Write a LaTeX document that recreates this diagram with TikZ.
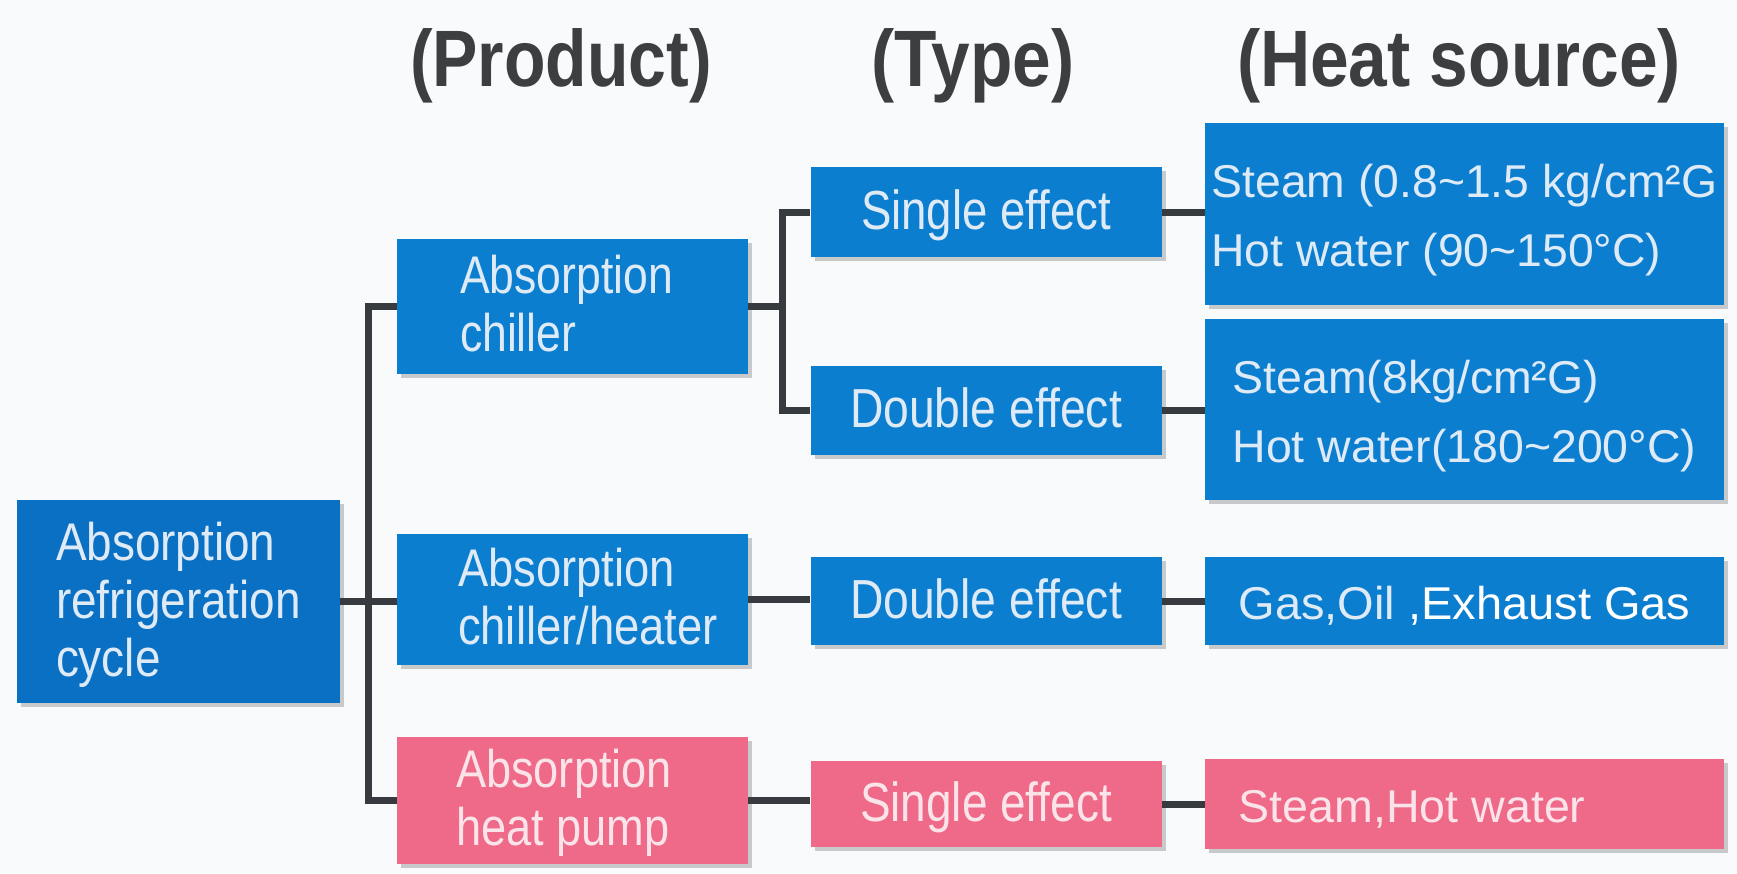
\documentclass[tikz,border=0pt]{standalone}
\usepackage{fontspec}
\setmainfont{Liberation Sans}
\usepackage{graphicx}
\usetikzlibrary{shadows}
\definecolor{cblue}{RGB}{11,126,208}
\definecolor{cblueroot}{RGB}{10,112,196}
\definecolor{cpink}{RGB}{239,106,136}
\definecolor{btext}{RGB}{222,234,246}
\definecolor{ptext}{RGB}{250,228,234}
\definecolor{cline}{RGB}{55,58,62}
\definecolor{chead}{RGB}{60,62,64}
\definecolor{cbg}{RGB}{248,250,252}
\newsavebox\fitbox
\newcommand\fitw[2]{\sbox\fitbox{#2}\pgfmathsetmacro\fxs{#1/\the\wd\fitbox}\raisebox{-0.1em}[\height][\depth]{\scalebox{\fxs}[1]{\usebox\fitbox}}}
\newcommand\txtblock[1]{\begin{tabular}{@{}l@{}}#1\end{tabular}}
\begin{document}
\begin{tikzpicture}[x=1pt,y=-1pt,
  box/.style={rectangle, inner sep=0pt, text=btext,
    drop shadow={shadow xshift=4pt, shadow yshift=-4pt, opacity=0.4}},
  bluebox/.style={box, fill=cblue},
  pinkbox/.style={box, fill=cpink, text=ptext},
  conn/.style={draw=cline, line width=7pt, line join=miter},
  head/.style={text=chead, font=\fontsize{80}{90}\selectfont\bfseries, anchor=base, inner sep=0pt},
  prodf/.style={font=\fontsize{53}{58}\selectfont},
  typef/.style={font=\fontsize{55}{60}\selectfont},
  hsf/.style={font=\fontsize{46}{69}\selectfont},
  wprod/.style={minimum width=351pt},
  wtype/.style={minimum width=351pt},
  whs/.style={minimum width=519pt}
]
\useasboundingbox (0,0) rectangle (1737,873);
\fill[cbg] (0,0) rectangle (1737,873);

% headings
\node[head] (hprod) at (561,78) {\fitw{302}{(Product)}};
\node[head] (htype) at (973,78) {\fitw{203}{(Type)}};
\node[head] (hheat) at (1459,78) {\fitw{444}{(Heat source)}};

% root
\node[box, fill=cblueroot, prodf, minimum width=323pt, minimum height=203pt] (root) at (178.5,601.5)
  {\fitw{245}{\txtblock{Absorption\\refrigeration\\cycle}}};

% products
\node[bluebox, prodf, wprod, minimum height=135pt] (chiller) at (572.5,306)
  {\makebox[225pt][l]{\fitw{213}{\txtblock{Absorption\\chiller}}}};
\node[bluebox, prodf, wprod, minimum height=131pt] (chillerheater) at (572.5,599)
  {\makebox[229pt][l]{\fitw{260}{\txtblock{Absorption\\chiller/heater}}}};
\node[pinkbox, prodf, wprod, minimum height=127pt] (heatpump) at (572.5,800)
  {\makebox[233pt][l]{\fitw{216}{\txtblock{Absorption\\heat pump}}}};

% types
\node[bluebox, typef, wtype, minimum height=90pt] (type1) at (986,212)
  {\fitw{250}{\txtblock{Single effect}}};
\node[bluebox, typef, wtype, minimum height=89pt] (type2) at (986,410)
  {\fitw{272}{\txtblock{Double effect}}};
\node[bluebox, typef, wtype, minimum height=88pt] (type3) at (986,601)
  {\fitw{272}{\txtblock{Double effect}}};
\node[pinkbox, typef, wtype, minimum height=86pt] (type4) at (986,804)
  {\fitw{252}{\txtblock{Single effect}}};

% heat sources
\node[bluebox, hsf, whs, minimum height=182pt] (hs1) at (1464.5,214)
  {\fitw{506}{\txtblock{Steam (0.8\textasciitilde1.5 kg/cm²G\\Hot water (90\textasciitilde150°C)}}};
\node[bluebox, hsf, whs, minimum height=181pt] (hs2) at (1464.5,409.5)
  {\fitw{464}{\txtblock{Steam(8kg/cm²G)\\Hot water(180\textasciitilde200°C)}}};
\node[bluebox, hsf, whs, minimum height=88pt] (hs3) at (1464.5,601)
  {\fitw{452}{\txtblock{Gas,Oil {\color{white},Exhaust Gas}}}};
\node[pinkbox, hsf, whs, minimum height=90pt] (hs4) at (1464.5,804)
  {\makebox[452pt][l]{\fitw{347}{\txtblock{Steam,Hot water}}}};

% junction coordinates
\coordinate (j1) at (368,600);
\coordinate (j2) at (782,300);

% connectors
\draw[conn] (root.east) -- (root.east -| chillerheater.west);
\draw[conn] (chiller.west) -- (chiller.west -| j1) -- (heatpump.west -| j1) -- (heatpump.west);
\draw[conn] (chiller.east) -- (chiller.east -| j2);
\draw[conn] (type1.west) -- (type1.west -| j2) -- (type2.west -| j2) -- (type2.west);
\draw[conn] (chillerheater.east) -- (chillerheater.east -| type3.west);
\draw[conn] (heatpump.east) -- (heatpump.east -| type4.west);
\draw[conn] (type1.east) -- (type1.east -| hs1.west);
\draw[conn] (type2.east) -- (type2.east -| hs2.west);
\draw[conn] (type3.east) -- (type3.east -| hs3.west);
\draw[conn] (type4.east) -- (type4.east -| hs4.west);
\end{tikzpicture}
\end{document}
